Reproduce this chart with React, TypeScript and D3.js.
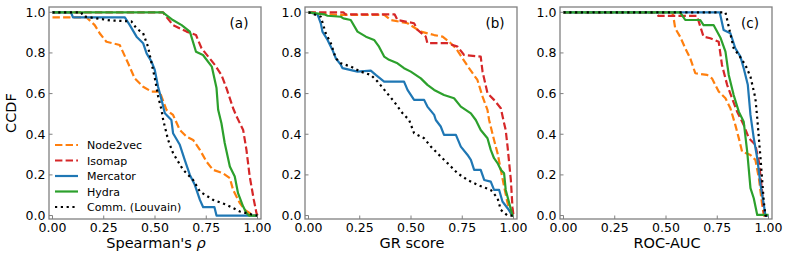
import React from "react";
import * as d3 from "d3";

type Pt = [number, number];

// ---- panel (a): Spearman's rho ----
const aNode2vec: Pt[] = [[0, 0.975], [0.166, 0.975], [0.206, 0.937], [0.23, 0.897], [0.263, 0.855], [0.328, 0.839], [0.369, 0.749], [0.401, 0.675], [0.442, 0.634], [0.483, 0.61], [0.523, 0.61], [0.556, 0.52], [0.588, 0.495], [0.621, 0.421], [0.654, 0.388], [0.686, 0.372], [0.719, 0.323], [0.751, 0.265], [0.783, 0.225], [0.832, 0.208], [0.865, 0.184], [0.881, 0.126], [0.914, 0.061], [0.938, 0.028], [0.98, 0], [1.0, 0]];
const aIsomap: Pt[] = [[0, 1], [0.54, 1], [0.548, 0.987], [0.588, 0.937], [0.654, 0.905], [0.7, 0.888], [0.727, 0.823], [0.792, 0.741], [0.824, 0.692], [0.849, 0.626], [0.881, 0.528], [0.898, 0.487], [0.93, 0.421], [0.946, 0.323], [0.962, 0.192], [0.982, 0.077], [0.995, 0.012], [1.0, 0]];
const aMercator: Pt[] = [[0, 1], [0.09, 1], [0.1, 0.975], [0.353, 0.975], [0.377, 0.937], [0.41, 0.88], [0.442, 0.848], [0.459, 0.798], [0.483, 0.757], [0.499, 0.716], [0.515, 0.634], [0.532, 0.569], [0.548, 0.503], [0.58, 0.47], [0.588, 0.405], [0.621, 0.348], [0.645, 0.274], [0.67, 0.2], [0.694, 0.151], [0.719, 0.077], [0.735, 0.041], [0.79, 0.041], [0.8, 0], [1.0, 0]];
const aHydra: Pt[] = [[0, 1], [0.538, 1], [0.587, 0.962], [0.63, 0.937], [0.67, 0.905], [0.7, 0.806], [0.734, 0.79], [0.777, 0.733], [0.8, 0.627], [0.808, 0.52], [0.824, 0.454], [0.84, 0.357], [0.865, 0.241], [0.889, 0.192], [0.905, 0.11], [0.93, 0.044], [0.946, 0.012], [0.96, 0], [1.0, 0]];
const aLouvain: Pt[] = [[0, 1], [0.14, 1], [0.15, 0.98], [0.28, 0.96], [0.385, 0.955], [0.41, 0.92], [0.442, 0.897], [0.466, 0.83], [0.483, 0.75], [0.5, 0.672], [0.515, 0.587], [0.532, 0.519], [0.54, 0.47], [0.564, 0.372], [0.588, 0.307], [0.637, 0.225], [0.686, 0.175], [0.719, 0.118], [0.783, 0.077], [0.849, 0.053], [0.914, 0.02], [0.98, 0.003], [1.0, 0]];

// ---- panel (b): GR score ----
const bNode2vec: Pt[] = [[0, 1], [0.093, 0.99], [0.141, 0.987], [0.37, 0.987], [0.401, 0.962], [0.483, 0.946], [0.548, 0.905], [0.613, 0.888], [0.654, 0.88], [0.686, 0.855], [0.719, 0.823], [0.751, 0.774], [0.783, 0.725], [0.824, 0.667], [0.849, 0.585], [0.873, 0.52], [0.881, 0.47], [0.905, 0.372], [0.922, 0.307], [0.938, 0.225], [0.954, 0.143], [0.971, 0.061], [0.987, 0.01], [1.0, 0]];
const bIsomap: Pt[] = [[0, 1], [0.17, 1], [0.18, 0.99], [0.42, 0.99], [0.434, 0.962], [0.515, 0.946], [0.532, 0.913], [0.572, 0.88], [0.58, 0.848], [0.678, 0.848], [0.727, 0.831], [0.759, 0.79], [0.84, 0.782], [0.849, 0.708], [0.873, 0.602], [0.905, 0.569], [0.938, 0.528], [0.954, 0.454], [0.962, 0.42], [0.971, 0.339], [0.987, 0.175], [0.995, 0.04], [1.0, 0]];
const bMercator: Pt[] = [[0, 1], [0.044, 0.99], [0.06, 0.946], [0.068, 0.905], [0.093, 0.864], [0.117, 0.815], [0.133, 0.774], [0.158, 0.741], [0.166, 0.725], [0.239, 0.708], [0.304, 0.713], [0.328, 0.692], [0.369, 0.659], [0.466, 0.659], [0.483, 0.618], [0.515, 0.569], [0.564, 0.569], [0.58, 0.536], [0.613, 0.495], [0.621, 0.47], [0.645, 0.438], [0.661, 0.397], [0.719, 0.397], [0.743, 0.339], [0.776, 0.298], [0.792, 0.274], [0.808, 0.225], [0.84, 0.225], [0.857, 0.175], [0.889, 0.167], [0.905, 0.126], [0.93, 0.126], [0.946, 0.069], [0.971, 0.036], [0.995, 0], [1.0, 0]];
const bHydra: Pt[] = [[0, 1], [0.076, 0.99], [0.093, 0.983], [0.158, 0.978], [0.17, 0.97], [0.206, 0.962], [0.239, 0.905], [0.28, 0.88], [0.32, 0.864], [0.344, 0.831], [0.369, 0.782], [0.393, 0.766], [0.434, 0.749], [0.466, 0.725], [0.499, 0.708], [0.548, 0.675], [0.58, 0.643], [0.613, 0.618], [0.661, 0.593], [0.71, 0.577], [0.743, 0.536], [0.792, 0.503], [0.816, 0.47], [0.84, 0.421], [0.873, 0.38], [0.889, 0.323], [0.905, 0.282], [0.922, 0.258], [0.938, 0.225], [0.954, 0.208], [0.962, 0.126], [0.979, 0.061], [0.995, 0], [1.0, 0]];
const bLouvain: Pt[] = [[0, 1], [0.06, 0.978], [0.084, 0.897], [0.109, 0.848], [0.133, 0.774], [0.158, 0.749], [0.206, 0.733], [0.255, 0.708], [0.304, 0.692], [0.337, 0.659], [0.377, 0.61], [0.418, 0.56], [0.459, 0.503], [0.491, 0.47], [0.515, 0.405], [0.564, 0.38], [0.597, 0.339], [0.645, 0.29], [0.678, 0.258], [0.727, 0.208], [0.776, 0.175], [0.824, 0.151], [0.889, 0.126], [0.922, 0.086], [0.938, 0.028], [0.971, 0], [1.0, 0]];

// ---- panel (c): ROC-AUC ----
const cNode2vec: Pt[] = [[0, 1], [0.53, 1], [0.536, 0.978], [0.545, 0.921], [0.569, 0.88], [0.594, 0.823], [0.618, 0.774], [0.643, 0.7], [0.7, 0.692], [0.724, 0.675], [0.757, 0.61], [0.79, 0.577], [0.814, 0.528], [0.838, 0.446], [0.855, 0.381], [0.871, 0.315], [0.912, 0.298], [0.936, 0.274], [0.953, 0.184], [0.969, 0.053], [0.977, 0], [1.0, 0]];
const cIsomap: Pt[] = [[0, 1], [0.447, 1], [0.463, 0.982], [0.651, 0.982], [0.683, 0.88], [0.716, 0.872], [0.757, 0.855], [0.773, 0.741], [0.798, 0.643], [0.822, 0.577], [0.847, 0.511], [0.879, 0.446], [0.904, 0.381], [0.936, 0.348], [0.953, 0.265], [0.969, 0.118], [0.977, 0.02], [0.985, 0], [1.0, 0]];
const cMercator: Pt[] = [[0, 1], [0.762, 1], [0.781, 0.913], [0.814, 0.897], [0.838, 0.823], [0.863, 0.782], [0.879, 0.725], [0.899, 0.643], [0.912, 0.495], [0.928, 0.381], [0.945, 0.282], [0.961, 0.151], [0.977, 0.053], [0.985, 0], [1.0, 0]];
const cHydra: Pt[] = [[0, 1], [0.569, 1], [0.594, 0.962], [0.667, 0.962], [0.683, 0.937], [0.732, 0.937], [0.765, 0.876], [0.79, 0.806], [0.806, 0.692], [0.83, 0.593], [0.855, 0.511], [0.879, 0.462], [0.896, 0.315], [0.912, 0.135], [0.928, 0.085], [0.945, 0.003], [1.0, 0.003]];
const cLouvain: Pt[] = [[0, 1], [0.79, 1], [0.806, 0.929], [0.83, 0.823], [0.855, 0.79], [0.887, 0.741], [0.912, 0.683], [0.936, 0.577], [0.945, 0.479], [0.961, 0.282], [0.977, 0.069], [0.985, 0], [1.0, 0]];

const methods = ["Node2vec", "Isomap", "Mercator", "Hydra", "Comm. (Louvain)"];
const colors = ["#ff7f0e", "#d62728", "#1f77b4", "#2ca02c", "#000000"];
const dashes = ["7.4,3.2", "7.4,3.2", null, null, "2.2,3.6"];

const xTicks = [0, 0.25, 0.5, 0.75, 1.0];
const yTicks = [0, 0.2, 0.4, 0.6, 0.8, 1.0];

const panels = [
  { left: 49, tag: "(a)", label: "spearman", series: [aNode2vec, aIsomap, aMercator, aHydra, aLouvain] },
  { left: 305, tag: "(b)", label: "GR score", series: [bNode2vec, bIsomap, bMercator, bHydra, bLouvain] },
  { left: 560, tag: "(c)", label: "ROC-AUC", series: [cNode2vec, cIsomap, cMercator, cHydra, cLouvain] },
];

const W = 212;
const TOP = 7;
const BOTTOM = 219;
const spine = "#808080";
const font = "DejaVu Sans";

const Panel = ({ p, idx }) => {
  const x = d3.scaleLinear().domain([-0.017, 1.017]).range([p.left, p.left + W]);
  const y = d3.scaleLinear().domain([-0.017, 1.026]).range([BOTTOM, TOP]);
  const line = d3.line<Pt>().x((d) => x(d[0])).y((d) => y(d[1]));

  return (
    <g>
      <defs>
        <clipPath id={`clip${idx}`}>
          <rect x={p.left} y={TOP} width={W} height={BOTTOM - TOP} />
        </clipPath>
      </defs>
      <g clipPath={`url(#clip${idx})`}>
        {p.series.map((s, i) => (
          <path
            key={i}
            d={line(s)}
            fill="none"
            stroke={colors[i]}
            strokeWidth={2.2}
            strokeDasharray={dashes[i] || undefined}
            strokeLinejoin="round"
          />
        ))}
      </g>
      <rect x={p.left} y={TOP} width={W} height={BOTTOM - TOP} fill="none" stroke={spine} strokeWidth={1.3} />
      {xTicks.map((t) => (
        <g key={t}>
          <line x1={x(t)} x2={x(t)} y1={BOTTOM} y2={BOTTOM - 3.5} stroke={spine} strokeWidth={1} />
          <text x={x(t)} y={232} fontSize={12.5} textAnchor="middle" fontFamily={font}>
            {t.toFixed(2)}
          </text>
        </g>
      ))}
      {yTicks.map((t) => (
        <g key={t}>
          <line x1={p.left} x2={p.left + 3.5} y1={y(t)} y2={y(t)} stroke={spine} strokeWidth={1} />
          <text x={p.left - 3.5} y={y(t) + 4.5} fontSize={12.5} textAnchor="end" fontFamily={font}>
            {t.toFixed(1)}
          </text>
        </g>
      ))}
      <text x={p.left + W - 22} y={28} fontSize={13.5} textAnchor="middle" fontFamily={font}>
        {p.tag}
      </text>
      <text x={p.left + W / 2 + 1} y={248} fontSize={14.5} textAnchor="middle" fontFamily={font}>
        {p.label === "spearman" ? (
          <>
            Spearman's <tspan fontStyle="italic">ρ</tspan>
          </>
        ) : (
          p.label
        )}
      </text>
    </g>
  );
};

const Legend = () => {
  const rows = [145, 160.5, 176, 191.5, 207];
  return (
    <g>
      {methods.map((m, i) => (
        <g key={m}>
          <line x1={55} x2={78} y1={rows[i]} y2={rows[i]} stroke={colors[i]} strokeWidth={2.2} strokeDasharray={dashes[i] || undefined} />
          <text x={87} y={rows[i] + 4} fontSize={11} fontFamily={font}>
            {m}
          </text>
        </g>
      ))}
    </g>
  );
};

export default function App() {
  return (
    <svg width={789} height={255} style={{ position: "absolute", left: 0, top: 0, background: "#fff" }}>
      {panels.map((p, i) => (
        <Panel key={i} p={p} idx={i} />
      ))}
      <Legend />
      <text transform="translate(16,113) rotate(-90)" fontSize={14.5} textAnchor="middle" fontFamily={font}>
        CCDF
      </text>
    </svg>
  );
}
